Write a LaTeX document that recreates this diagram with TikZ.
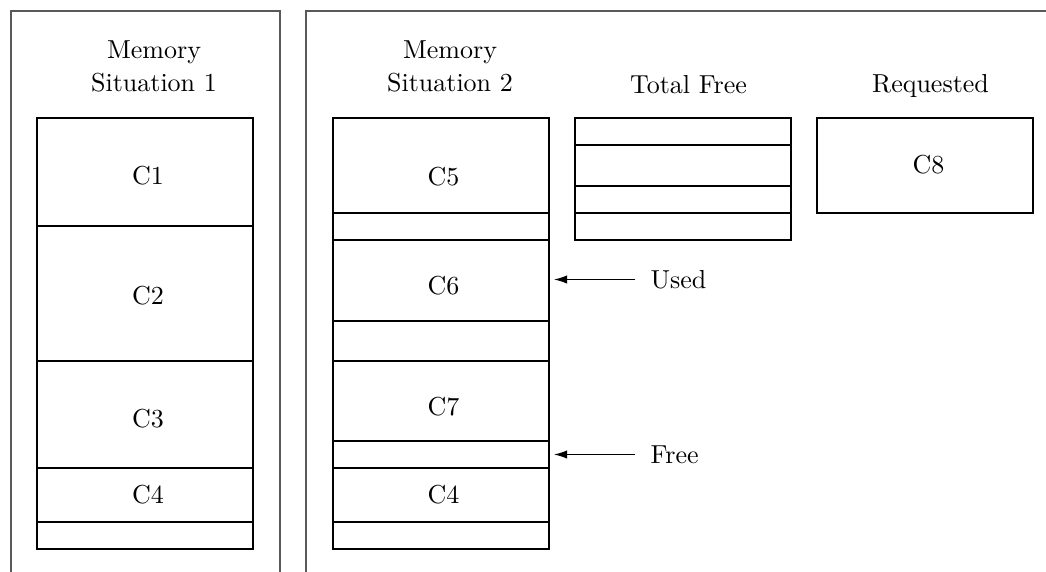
\documentclass[tikz,border=0pt]{standalone}
\usetikzlibrary{arrows.meta}
\def\pxu{0.01352cm}
\tikzset{
  blk/.style={draw=black, line width=0.5pt, inner sep=0pt, outer sep=0pt, anchor=north west, minimum width=216*\pxu},
  frame/.style={draw=black!65, line width=0.5pt},
  title/.style={align=center, inner sep=0pt},
  txt/.style={inner sep=0pt},
  lbl/.style={anchor=west, inner sep=0pt},
  ptr/.style={-{Latex[length=5pt,width=3.2pt]}, line width=0.5pt, shorten >=5*\pxu, shorten <=15*\pxu}
}
\newcommand\blk[4]{\node[blk, minimum height=#4*\pxu] (#1) at (#2,#3) {};}
\begin{document}
\begin{tikzpicture}[x=\pxu, y=-\pxu]
\useasboundingbox (0,0) rectangle (1046,571);
\begin{scope}
\clip (0,0) rectangle (1046,571);
\draw[frame] (11,11) rectangle (280,620);
\draw[frame] (306,11) rectangle (1100,620);
\end{scope}
% titles
\node[title, anchor=south] (t1) at (154,93) {Memory\\[1pt]Situation 1};
\node[title, anchor=south] (t2) at (450,93) {Memory\\[1pt]Situation 2};
\node[title, anchor=base] (t3) at (688.5,93) {Total Free};
\node[title, anchor=base] (t4) at (930.5,92) {Requested};
% situation 1
\blk{a1}{37}{118}{108}
\blk{a2}{37}{226}{135}
\blk{a3}{37}{361}{107}
\blk{a4}{37}{468}{54}
\blk{a5}{37}{522}{27}
\node[txt] (la1) at (148,176) {C1};
\node[txt] (la2) at (148,296) {C2};
\node[txt] (la3) at (148,419) {C3};
\node[txt] (la4) at (148,494.5) {C4};
% situation 2
\blk{b1}{333}{118}{95}
\blk{b2}{333}{213}{27}
\blk{b3}{333}{240}{81}
\blk{b4}{333}{321}{40}
\blk{b5}{333}{361}{80}
\blk{b6}{333}{441}{27}
\blk{b7}{333}{468}{54}
\blk{b8}{333}{522}{27}
\node[txt] (lb1) at (443.5,176.5) {C5};
\node[txt] (lb3) at (443.5,286) {C6};
\node[txt] (lb5) at (443.5,406.5) {C7};
\node[txt] (lb7) at (443.5,495) {C4};
% total free
\blk{f1}{575}{118}{27}
\blk{f2}{575}{145}{41}
\blk{f3}{575}{186}{27}
\blk{f4}{575}{213}{27}
% requested
\blk{r1}{817}{118}{95}
\node[txt] (lr1) at (928.5,164.5) {C8};
% labels and arrows
\node[lbl] (used) at (650,279.5) {Used};
\node[lbl] (free) at (650,454.5) {Free};
\draw[ptr] (used.west) -- (used.west -| b3.east);
\draw[ptr] (free.west) -- (free.west -| b6.east);
\end{tikzpicture}
\end{document}
